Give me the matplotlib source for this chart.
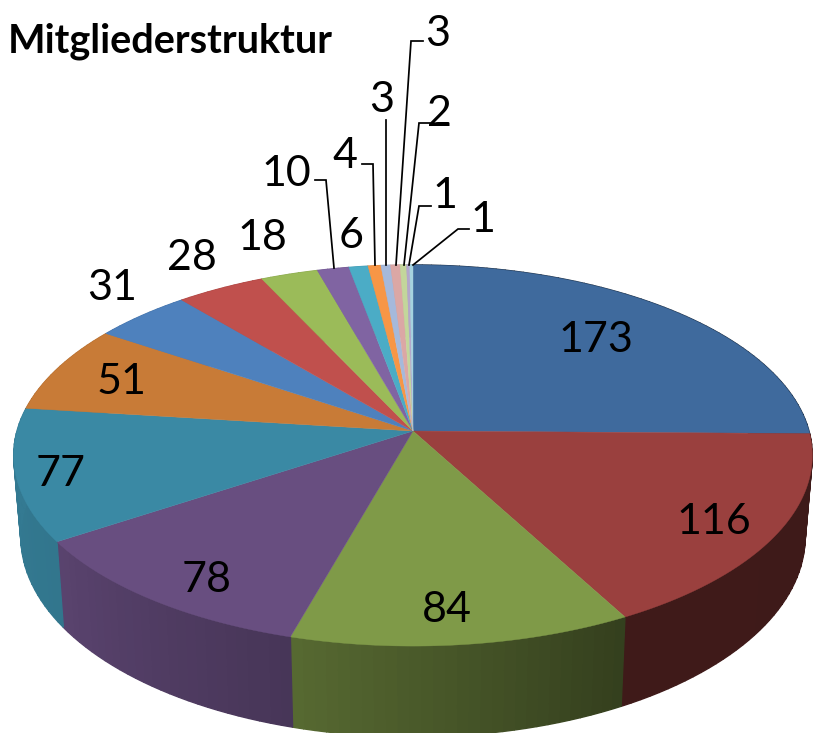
import numpy as np
import matplotlib
matplotlib.use("Agg")
import matplotlib.pyplot as plt
from matplotlib.colors import to_rgb

title = "Mitgliederstruktur"
values = [173, 116, 84, 78, 77, 51, 31, 28, 18, 10, 6, 4, 3, 3, 2, 1, 1]
colors = ["#3F6A9D", "#9A403E", "#7F9A48", "#684E80", "#3A89A4", "#C87B37",
          "#4E81BD", "#C0504D", "#9BBB59", "#8064A2", "#4BACC6", "#F79646",
          "#A5B9DB", "#DBA7A5", "#C3D69B", "#B3A7CB", "#A5D3DF"]
label_pos = [(596, 336), (714, 518), (447, 606), (207, 576), (61, 470), (121, 379),
             (112, 285), (192, 255), (262, 235), (286, 171), (351, 233), (345, 152),
             (382, 96), (438, 30), (439, 111), (445, 192), (483, 217)]
leaders = [[(315, 180), (326, 180), (334, 268)],
           [(362, 164), (373, 164), (375, 265)],
           [(386, 120), (386, 265)],
           [(423, 41), (411, 41), (396, 265)],
           [(430, 123), (419, 123), (404, 265)],
           [(431, 206), (419, 206), (409, 265)],
           [(469, 229), (458, 229), (413, 265)]]

CX, CY, R, A, K = 413, 431, 396, 187.4, 0.1286
SX, SY, DEPTH = 0.982, 1.05, 80


def top_rim(theta):
    u, v = np.sin(theta), np.cos(theta)
    den = 1 + K * v
    return R * u / den, -A * v / den


def shade(deg):
    return np.interp(deg, [90, 152, 195, 236, 280], [0.40, 0.41, 0.68, 0.86, 0.90])


fig = plt.figure(figsize=(8.15, 7.33), dpi=100)
ax = fig.add_axes([0, 0, 1, 1])
ax.set_xlim(0, 815)
ax.set_ylim(733, 0)
ax.axis("off")

edges = np.radians(np.concatenate([[0], np.cumsum(values)]) / np.sum(values) * 360)

# side wall
for i, col in enumerate(colors):
    a0, a1 = edges[i], edges[i + 1]
    n = max(2, int(np.degrees(a1 - a0) / 1.5))
    t = np.linspace(a0, a1, n + 1)
    rgb = np.array(to_rgb(col))
    for j in range(n):
        tt = np.linspace(t[j], t[j + 1], 4)
        x, y = top_rim(tt)
        xs = np.concatenate([CX + x, CX + SX * x[::-1]])
        ys = np.concatenate([CY + y, CY + SY * y[::-1] + DEPTH])
        c = rgb * shade(np.degrees(t[j:j + 2].mean()))
        ax.fill(xs, ys, color=c, lw=1.0, zorder=2)

# top face
for i, col in enumerate(colors):
    tt = np.linspace(edges[i], edges[i + 1], max(3, int(np.degrees(edges[i + 1] - edges[i])) * 2))
    x, y = top_rim(tt)
    ax.fill(np.r_[CX, CX + x], np.r_[CY, CY + y], color=col, lw=0.3, zorder=3)

for pts in leaders:
    p = np.array(pts)
    ax.plot(p[:, 0], p[:, 1], color="black", lw=1.25, zorder=4, solid_joinstyle="miter")

for v, (x, y) in zip(values, label_pos):
    ax.text(x, y, str(v), family="Lato", fontsize=31, color="black",
            ha="center", va="center_baseline", zorder=5)

ax.text(8, 38, title, family="Lato", fontsize=28.5, fontweight="bold",
        color="black", ha="left", va="center_baseline", zorder=5)

fig.savefig("out.png", dpi=100)
